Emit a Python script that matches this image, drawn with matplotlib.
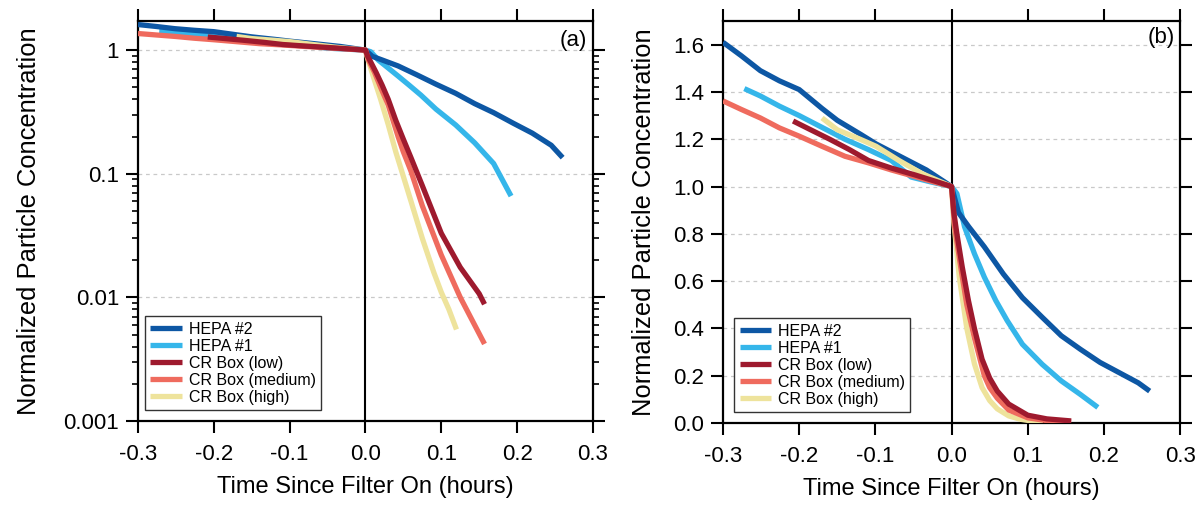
import numpy as np
import matplotlib.pyplot as plt
from matplotlib.ticker import FixedLocator, FixedFormatter, LogLocator, NullFormatter

plt.rcParams['font.family'] = ['Liberation Sans', 'DejaVu Sans']
plt.rcParams['axes.unicode_minus'] = False

# ---- data (time in hours, normalized concentration) ----
hepa2_t = [-0.30, -0.276, -0.251, -0.226, -0.20, -0.17, -0.15, -0.119, -0.099, -0.069, -0.033, 0.0,
           0.009, 0.0225, 0.043, 0.068, 0.093, 0.119, 0.144, 0.169, 0.195, 0.22, 0.245, 0.26]
hepa2_c = [1.61, 1.553, 1.49, 1.447, 1.41, 1.33, 1.28, 1.22, 1.18, 1.13, 1.07, 1.0,
           0.89, 0.83, 0.745, 0.63, 0.53, 0.447, 0.369, 0.312, 0.256, 0.213, 0.17, 0.135]

hepa1_t = [-0.272, -0.251, -0.226, -0.20, -0.17, -0.14, -0.109, -0.079, -0.053, -0.028, 0.0,
           0.007, 0.017, 0.03, 0.043, 0.058, 0.073, 0.093, 0.119, 0.144, 0.169, 0.192]
hepa1_c = [1.414, 1.383, 1.34, 1.30, 1.25, 1.20, 1.156, 1.11, 1.04, 1.02, 1.0,
           0.97, 0.83, 0.716, 0.617, 0.518, 0.433, 0.333, 0.248, 0.178, 0.121, 0.066]

low_t = [-0.208, -0.185, -0.16, -0.134, -0.109, -0.079, -0.049, -0.019, 0.0,
         0.003, 0.007, 0.014, 0.022, 0.03, 0.04, 0.05, 0.06, 0.075, 0.1, 0.125, 0.15, 0.157]
low_c = [1.277, 1.24, 1.20, 1.156, 1.11, 1.078, 1.05, 1.02, 1.0,
         0.89, 0.80, 0.66, 0.52, 0.40, 0.27, 0.19, 0.135, 0.08, 0.033, 0.0175, 0.0107, 0.0088]

med_t = [-0.30, -0.276, -0.251, -0.226, -0.20, -0.17, -0.14, -0.109, -0.079, -0.049, -0.024, 0.0,
         0.004, 0.012, 0.02, 0.03, 0.043, 0.05, 0.06, 0.075, 0.1, 0.125, 0.157]
med_c = [1.362, 1.326, 1.29, 1.248, 1.213, 1.17, 1.128, 1.10, 1.07, 1.043, 1.02, 1.0,
         0.83, 0.66, 0.50, 0.36, 0.20, 0.15, 0.105, 0.055, 0.022, 0.01, 0.0042]

high_t = [-0.17, -0.15, -0.12, -0.099, -0.069, -0.039, 0.0,
          0.003, 0.01, 0.02, 0.03, 0.04, 0.05, 0.06, 0.075, 0.09, 0.1, 0.11, 0.12]
high_c = [1.29, 1.24, 1.20, 1.17, 1.11, 1.055, 1.0,
          0.85, 0.62, 0.40, 0.25, 0.15, 0.095, 0.06, 0.03, 0.016, 0.011, 0.008, 0.0055]

series = [
    ('HEPA #1', hepa1_t, hepa1_c, '#35b6ea'),
    ('HEPA #2', hepa2_t, hepa2_c, '#0d57a4'),
    ('CR Box (high)', high_t, high_c, '#eee39c'),
    ('CR Box (medium)', med_t, med_c, '#ef6b5e'),
    ('CR Box (low)', low_t, low_c, '#9e1a2e'),
]
legend_order = ['HEPA #2', 'HEPA #1', 'CR Box (low)', 'CR Box (medium)', 'CR Box (high)']

xticks = [-0.3, -0.2, -0.1, 0.0, 0.1, 0.2, 0.3]
xticklabels = ['-0.3', '-0.2', '-0.1', '0.0', '0.1', '0.2', '0.3']
log_ticks = [0.001, 0.01, 0.1, 1]
log_labels = ['0.001', '0.01', '0.1', '1']
lin_ticks = [0.0, 0.2, 0.4, 0.6, 0.8, 1.0, 1.2, 1.4, 1.6]

fig = plt.figure(figsize=(12.03, 5.12), dpi=100)
ax_a = fig.add_axes([0.1147, 0.1777, 0.3782, 0.7813])
ax_b = fig.add_axes([0.601, 0.1738, 0.380, 0.7852])


def style(ax, gridticks, ypad):
    for s in ax.spines.values():
        s.set_linewidth(1.6)
    ax.tick_params(which='major', direction='out', length=8.6, width=1.5,
                   top=True, right=True, labelsize=16, pad=5, colors='black')
    ax.tick_params(axis='x', pad=8)
    for g in gridticks:
        ax.axhline(g, color='#c9c9c9', lw=0.9, ls=(0, (3, 3)), zorder=0)
    ax.axvline(0.0, color='black', lw=1.5, zorder=1)
    ax.set_xlim(-0.3, 0.3)
    ax.set_xticks(xticks)
    ax.set_xticklabels(xticklabels)
    ax.set_xlabel('Time Since Filter On (hours)', fontsize=17, labelpad=8)
    ax.set_ylabel('Normalized Particle Concentration', fontsize=18.4, labelpad=ypad)


def draw(ax, loc_x):
    handles = {}
    for name, t, c, col in series:
        ln, = ax.plot(t, c, color=col, lw=3.8, solid_capstyle='butt', zorder=3)
        handles[name] = ln
    leg = ax.legend([handles[n] for n in legend_order], legend_order,
                    loc='lower left', bbox_to_anchor=(loc_x, 0.027), borderaxespad=0,
                    fontsize=11.5, labelspacing=0.12, handlelength=1.95,
                    handletextpad=0.45, borderpad=0.35, fancybox=False,
                    framealpha=1, edgecolor='#333333')
    leg.get_frame().set_linewidth(1.0)


# ---- panel (a): log scale ----
draw(ax_a, 0.015)
ax_a.set_yscale('log')
ax_a.set_ylim(0.001, 1.72)
style(ax_a, log_ticks, 16)
ax_a.yaxis.set_major_locator(FixedLocator(log_ticks))
ax_a.yaxis.set_major_formatter(FixedFormatter(log_labels))
ax_a.yaxis.set_minor_locator(LogLocator(base=10, subs=np.arange(2, 10)))
ax_a.yaxis.set_minor_formatter(NullFormatter())
ax_a.tick_params(which='minor', axis='y', direction='out', length=4.5, width=1.2,
                 left=True, right=True)
ax_a.tick_params(which='minor', axis='x', bottom=False, top=False)
ax_a.text(0.987, 0.952, '(a)', transform=ax_a.transAxes, ha='right', va='center', fontsize=16)

# ---- panel (b): linear scale ----
draw(ax_b, 0.024)
ax_b.set_ylim(0.0, 1.7)
style(ax_b, lin_ticks, 12)
ax_b.set_yticks(lin_ticks)
ax_b.set_yticklabels(['%.1f' % v for v in lin_ticks])
ax_b.text(0.989, 0.96, '(b)', transform=ax_b.transAxes, ha='right', va='center', fontsize=16)

fig.savefig('out.png', dpi=100)
